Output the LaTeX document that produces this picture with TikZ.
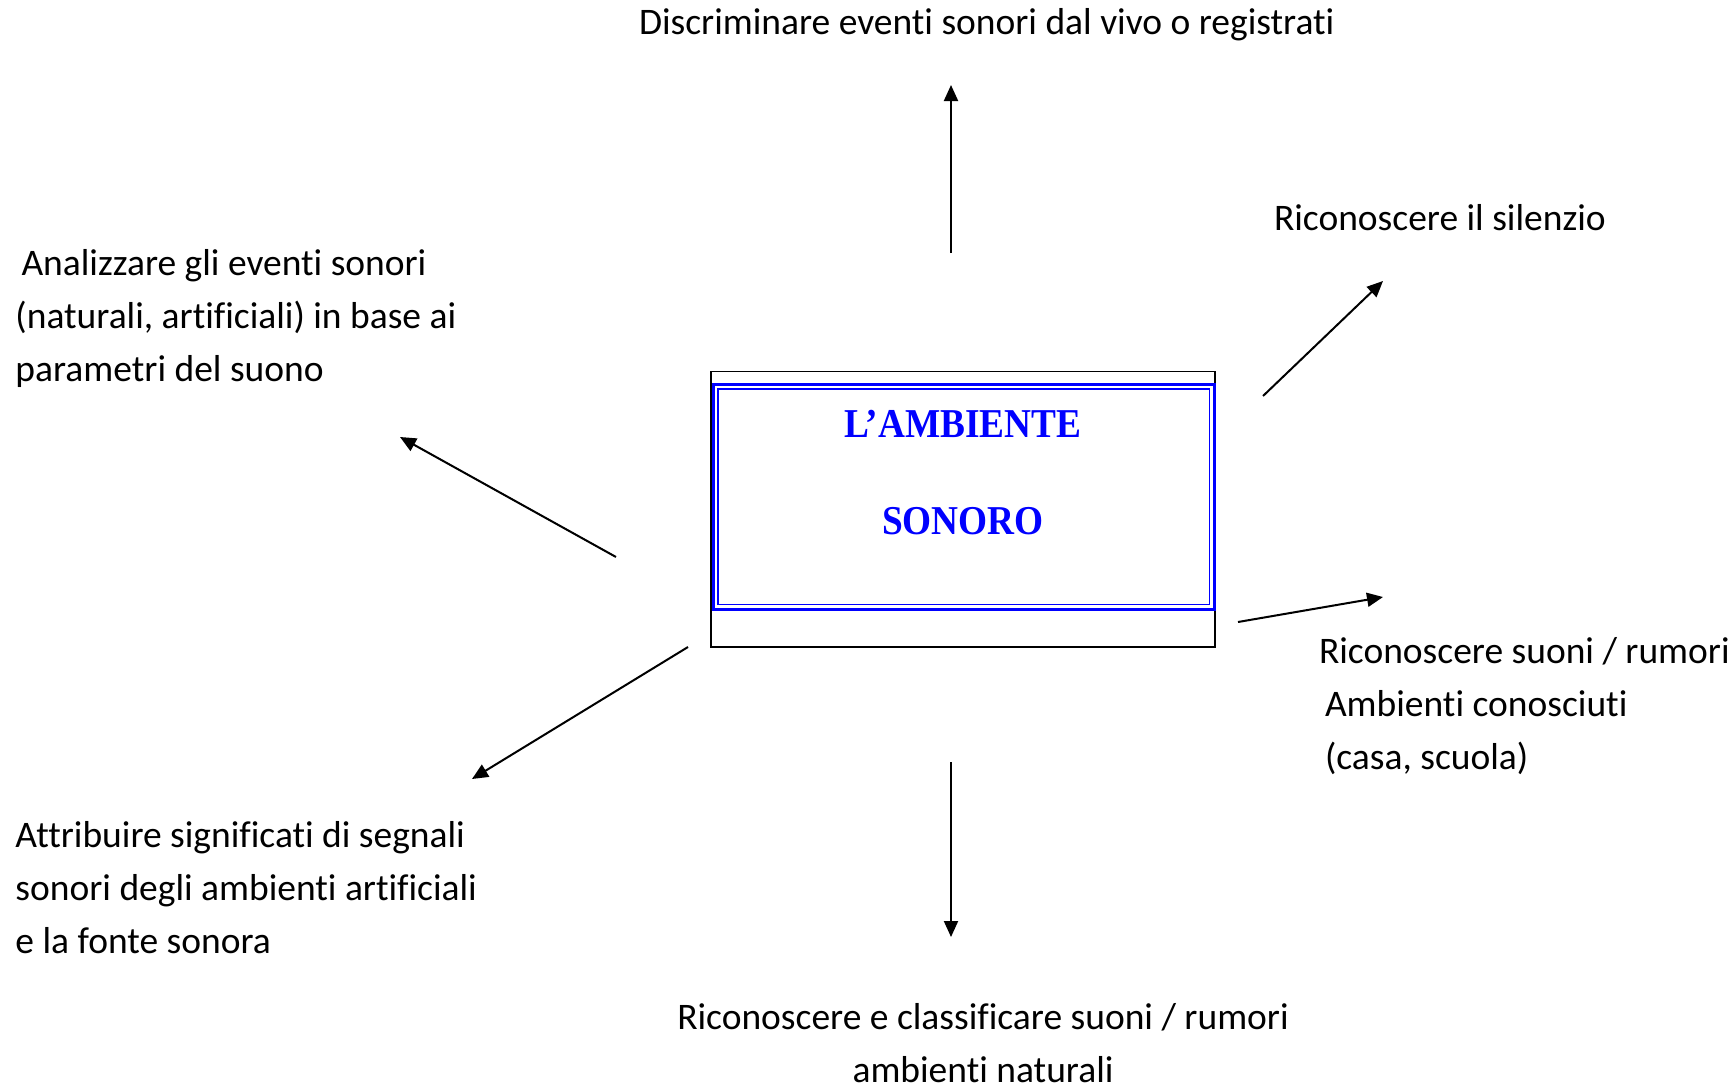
\documentclass[tikz,border=0pt]{standalone}
\usepackage{fontspec}
\setmainfont[Ligatures=NoCommon]{Carlito}
\newfontfamily\titlefont[FakeStretch=0.91]{Liberation Serif}
\usetikzlibrary{arrows.meta}
\definecolor{titleblue}{RGB}{0,0,255}
\tikzset{
  lbl/.style={inner sep=0pt, outer sep=0pt, font=\fontsize{37.5}{53}\selectfont},
  arr/.style={line width=2pt, -{Triangle[length=16pt,width=14pt]}},
  ttl/.style={inner sep=0pt, text=titleblue, font=\titlefont\bfseries\fontsize{41}{41}\selectfont}
}
\begin{document}
\begin{tikzpicture}[x=1pt,y=-1pt]
\useasboundingbox[fill=white] (0,0) rectangle (1734,1087);
% central box
\draw[line width=1.6pt] (711,371.5) rectangle (1215,647);
\draw[titleblue, line width=3pt] (713.5,384) rectangle (1214,609);
\draw[titleblue, line width=1.5pt] (718,389) rectangle (1209.5,604.5);
\node[ttl, anchor=base] (t1) at (963,437) {L’AMBIENTE};
\node[ttl, anchor=base] (t2) at (963,534) {SONORO};
% labels
\node[lbl, anchor=base west] (top) at (639,34) {Discriminare eventi sonori dal vivo o registrati};
\node[lbl, anchor=base west] (sil) at (1274,230) {Riconoscere il silenzio};
\node[lbl, anchor=base west, align=left] (ana) at (15.5,381) {\hspace*{6pt}Analizzare gli eventi sonori\\(naturali, artificiali) in base ai\\parametri del suono};
\node[lbl, anchor=base west, align=left] (ric) at (1319,769.5) {Riconoscere suoni / rumori\\\hspace*{6pt}Ambienti conosciuti\\\hspace*{6pt}(casa, scuola)};
\node[lbl, anchor=base west, align=left] (att) at (15.5,953) {Attribuire significati di segnali\\sonori degli ambienti artificiali\\e la fonte sonora};
\node[lbl, anchor=base, align=center] (cla) at (983,1082) {Riconoscere e classificare suoni / rumori\\ambienti naturali};
% arrow end points
\coordinate (nS) at (951,253); \coordinate (nE) at (951,85);
\coordinate (neS) at (1263,396); \coordinate (neE) at (1383,281);
\coordinate (nwS) at (616,557); \coordinate (nwE) at (400,437);
\coordinate (eS) at (1238,622); \coordinate (eE) at (1383,597);
\coordinate (swS) at (688,647); \coordinate (swE) at (472,779);
\coordinate (sS) at (951,762); \coordinate (sE) at (951,937);
\draw[arr] (nS) -- (nE);
\draw[arr] (neS) -- (neE);
\draw[arr] (nwS) -- (nwE);
\draw[arr] (eS) -- (eE);
\draw[arr] (swS) -- (swE);
\draw[arr] (sS) -- (sE);
\end{tikzpicture}
\end{document}
